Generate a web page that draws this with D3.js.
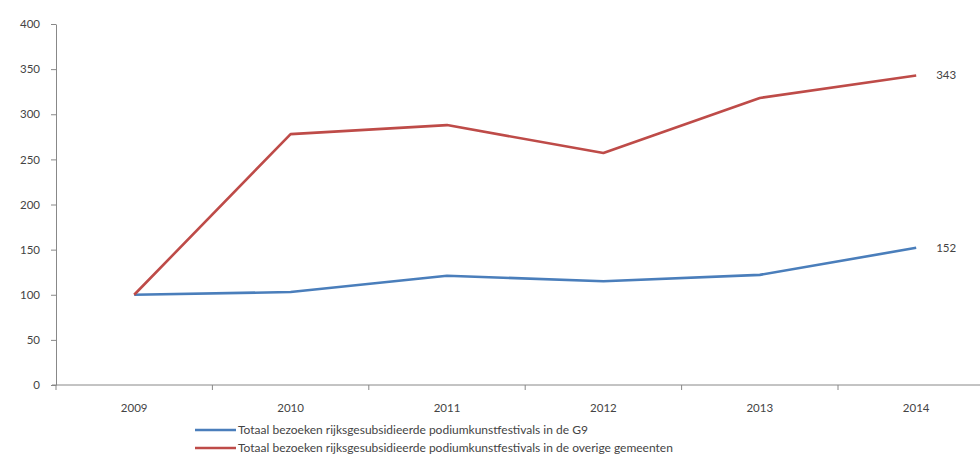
<!DOCTYPE html>
<html>
<head>
<meta charset="utf-8">
<script src="https://cdn.jsdelivr.net/npm/d3@7"></script>
<style>
  body { margin: 0; background: #fff; }
  svg text { font-family: Lato, "Open Sans", sans-serif; fill: #444; }
</style>
</head>
<body>
<svg id="chart" width="980" height="464"></svg>
<script>
var years = ['2009', '2010', '2011', '2012', '2013', '2014'];
var g9 = [100, 103, 121, 115, 122, 152];
var overige = [100, 278, 288, 257, 318, 343];
var yTicks = [0, 50, 100, 150, 200, 250, 300, 350, 400];
var seriesNames = [
    'Totaal bezoeken rijksgesubsidieerde podiumkunstfestivals in de G9',
    'Totaal bezoeken rijksgesubsidieerde podiumkunstfestivals in de overige gemeenten'
];
var seriesColors = ['#4a7ebb', '#be4b48'];

var svg = d3.select('#chart');
var mLeft = 56, mTop = 24, mBottom = 385, bandW = 156.4;

var x = d3.scaleBand()
    .domain(years)
    .range([mLeft, mLeft + bandW * years.length]);

var y = d3.scaleLinear()
    .domain([0, 400])
    .range([mBottom, mTop]);

// y axis
var yAxis = svg.append('g')
    .attr('transform', 'translate(' + mLeft + ',0)')
    .call(d3.axisLeft(y).tickValues(yTicks).tickSize(5).tickSizeOuter(0).tickPadding(11));
yAxis.select('.domain').attr('stroke', '#888');
yAxis.selectAll('.tick line').attr('stroke', '#888');
yAxis.selectAll('.tick text')
    .style('font-size', '11.5px')
    .style('font-family', 'Lato, sans-serif')
    .attr('fill', '#555');

// x axis, ticks sit between categories
var xg = svg.append('g')
    .attr('transform', 'translate(0,' + mBottom + ')');
xg.append('line')
    .attr('x1', mLeft - 4).attr('x2', x.range()[1])
    .attr('stroke', '#888');
xg.selectAll('line.tk')
    .data(years)
    .enter().append('line')
    .attr('class', 'tk')
    .attr('x1', function(d) { return x(d); })
    .attr('x2', function(d) { return x(d); })
    .attr('y1', 0).attr('y2', 5)
    .attr('stroke', '#888');
xg.selectAll('text')
    .data(years)
    .enter().append('text')
    .attr('x', function(d) { return x(d) + x.bandwidth() / 2; })
    .attr('y', 27)
    .attr('text-anchor', 'middle')
    .style('font-size', '11.5px')
    .text(function(d) { return d; });

// lines
var line = d3.line()
    .x(function(d, i) { return x(years[i]) + x.bandwidth() / 2; })
    .y(function(d) { return y(d); });

[g9, overige].forEach(function(s, i) {
    svg.append('path')
        .datum(s)
        .attr('fill', 'none')
        .attr('stroke', seriesColors[i])
        .attr('stroke-width', 2.6)
        .attr('stroke-linejoin', 'round')
        .attr('d', line);

    var last = s[s.length - 1];
    svg.append('text')
        .attr('x', x(years[years.length - 1]) + x.bandwidth() / 2 + 20)
        .attr('y', y(last) + 4)
        .style('font-size', '11.5px')
        .text(last);
});

// legend
var legend = svg.append('g');
seriesNames.forEach(function(name, i) {
    var ly = 430 + i * 18;
    legend.append('line')
        .attr('x1', 195).attr('x2', 236)
        .attr('y1', ly).attr('y2', ly)
        .attr('stroke', seriesColors[i])
        .attr('stroke-width', 2.6);
    legend.append('text')
        .attr('x', 238)
        .attr('y', ly + 4)
        .style('font-size', '12px')
        .text(name);
});
</script>
</body>
</html>
